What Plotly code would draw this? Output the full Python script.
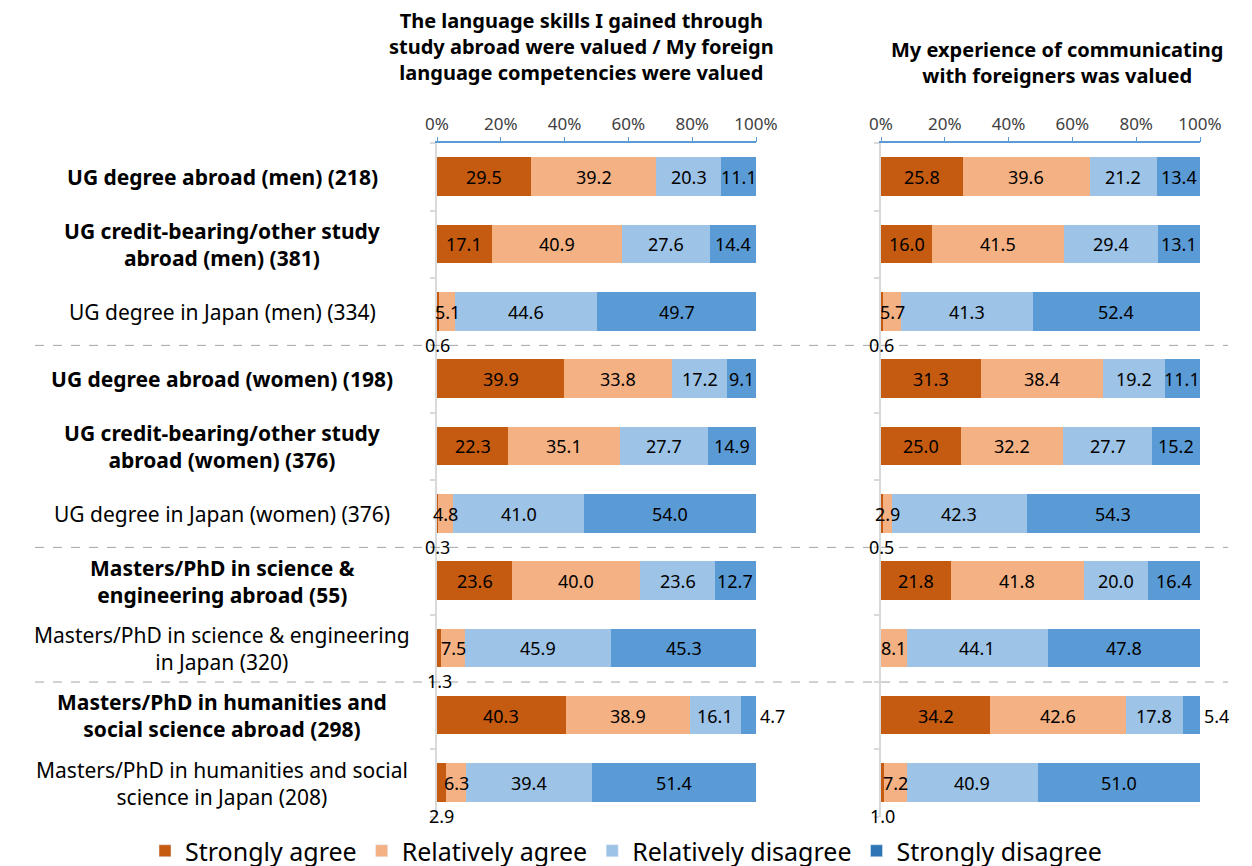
import plotly.graph_objects as go

# Row labels (top to bottom); bold rows are the "abroad" groups
groups = [
    "UG degree abroad (men) (218)",
    "UG credit-bearing/other study<br>abroad (men) (381)",
    "UG degree in Japan (men) (334)",
    "UG degree abroad (women) (198)",
    "UG credit-bearing/other study<br>abroad (women) (376)",
    "UG degree in Japan (women) (376)",
    "Masters/PhD in science &<br>engineering abroad (55)",
    "Masters/PhD in science & engineering<br>in Japan (320)",
    "Masters/PhD in humanities and<br>social science abroad (298)",
    "Masters/PhD in humanities and social<br>science in Japan (208)",
]
bold_rows = [True, True, False, True, True, False, True, False, True, False]

answers = ["Strongly agree", "Relatively agree", "Relatively disagree", "Strongly disagree"]
bar_colors = ["#C55A11", "#F4B183", "#9DC3E6", "#5B9BD5"]
legend_colors = ["#C55A11", "#F4B183", "#9DC3E6", "#2E75B6"]

# Left panel: language skills valued
lang_strong_agree = [29.5, 17.1, 0.6, 39.9, 22.3, 0.3, 23.6, 1.3, 40.3, 2.9]
lang_rel_agree = [39.2, 40.9, 5.1, 33.8, 35.1, 4.8, 40.0, 7.5, 38.9, 6.3]
lang_rel_disagree = [20.3, 27.6, 44.6, 17.2, 27.7, 41.0, 23.6, 45.9, 16.1, 39.4]
lang_strong_disagree = [11.1, 14.4, 49.7, 9.1, 14.9, 54.0, 12.7, 45.3, 4.7, 51.4]

# Right panel: communication with foreigners valued
comm_strong_agree = [25.8, 16.0, 0.6, 31.3, 25.0, 0.5, 21.8, 0.0, 34.2, 1.0]
comm_rel_agree = [39.6, 41.5, 5.7, 38.4, 32.2, 2.9, 41.8, 8.1, 42.6, 7.2]
comm_rel_disagree = [21.2, 29.4, 41.3, 19.2, 27.7, 42.3, 20.0, 44.1, 17.8, 40.9]
comm_strong_disagree = [13.4, 13.1, 52.4, 11.1, 15.2, 54.3, 16.4, 47.8, 5.4, 51.0]

title_left = "The language skills I gained through<br>study abroad were valued / My foreign<br>language competencies were valued"
title_right = "My experience of communicating<br>with foreigners was valued"

separators = [2.5, 5.5, 7.5]
tick_vals = [0, 20, 40, 60, 80, 100]
tick_text = [f"{v}%" for v in tick_vals]

FONT = "Noto Sans"
# the page body adds an 8px margin, so the figure is drawn 8px in from the corner
OFF = 8
W, H = 1252 - OFF, 866 - OFF


def fx(px):
    return (px - OFF) / W


def fy(px):
    return 1 - (px - OFF) / H


rows = list(range(len(groups)))
panels = [
    ("x", "y", [lang_strong_agree, lang_rel_agree, lang_rel_disagree, lang_strong_disagree]),
    ("x2", "y2", [comm_strong_agree, comm_rel_agree, comm_rel_disagree, comm_strong_disagree]),
]

fig = go.Figure()
annotations = []

for xa, ya, series in panels:
    for name, color, vals in zip(answers, bar_colors, series):
        fig.add_trace(go.Bar(
            x=vals, y=rows, orientation="h", name=name,
            marker=dict(color=color, line=dict(width=0)),
            width=0.57, xaxis=xa, yaxis=ya, showlegend=False,
            hoverinfo="x+name",
        ))
    # value labels
    for r in rows:
        left = 0.0
        for k, vals in enumerate(series):
            v = vals[r]
            centre = left + v / 2
            left += v
            if v <= 0:
                continue
            ann = dict(xref=xa, yref=ya, y=r, text=f"{v:.1f}", showarrow=False,
                       xanchor="center", font=dict(family=FONT, size=18, color="#000000"))
            if k == 0 and v < 3:
                # tiny slices get their label under the bar
                ann.update(x=centre, yshift=-33)
            elif k == 3 and v < 6:
                ann.update(x=100, xanchor="left", xshift=2)
            else:
                ann.update(x=centre)
            annotations.append(ann)

# legend entries (swatches use the darker blue like the original)
for name, color in zip(answers, legend_colors):
    fig.add_trace(go.Bar(x=[None], y=[None], orientation="h", name=name,
                         marker=dict(color=color), showlegend=True))

# row labels
for r, (label, bold) in enumerate(zip(groups, bold_rows)):
    txt = f"<b>{label.replace('<br>', '</b><br><b>')}</b>" if bold else label
    annotations.append(dict(xref="paper", yref="y", x=fx(222), y=r, text=txt,
                            showarrow=False, xanchor="center", yanchor="middle",
                            align="center",
                            font=dict(family=FONT, size=21, color="#000000")))

# panel titles
for title, xc, yc in [(title_left, 581, 47), (title_right, 1057, 63)]:
    txt = "<b>" + title.replace("<br>", "</b><br><b>") + "</b>"
    annotations.append(dict(xref="paper", yref="paper", x=fx(xc), y=fy(yc),
                            xanchor="center", yanchor="middle", text=txt,
                            showarrow=False, align="center",
                            font=dict(family=FONT, size=20, color="#000000")))

shapes = [dict(type="line", xref="paper", yref="y", x0=fx(35), x1=fx(1228), y0=s, y1=s,
               line=dict(color="#A6A6A6", width=1, dash="dash")) for s in separators]

y_top, y_bot = 143.4, 816.7
xaxis_common = dict(range=[0, 100], side="top", showline=True, linecolor="#5B9BD5",
                    linewidth=1.5, ticks="outside", tickcolor="#5B9BD5", ticklen=5,
                    tickvals=tick_vals, ticktext=tick_text, showgrid=False, zeroline=False,
                    tickfont=dict(family=FONT, size=17, color="#404040"), fixedrange=True,
                    automargin=False)
yaxis_common = dict(range=[len(groups) - 0.5, -0.5], domain=[fy(y_bot), fy(y_top)],
                    showline=True, linecolor="#D9D9D9", linewidth=2, ticks="outside",
                    tickcolor="#D9D9D9", ticklen=5, tickwidth=1.5,
                    tickvals=[r + 0.5 for r in range(-1, len(groups))],
                    showticklabels=False, showgrid=False, zeroline=False, fixedrange=True,
                    automargin=False)

fig.update_layout(
    width=W, height=H,
    margin=dict(l=0, r=0, t=0, b=0, autoexpand=False),
    paper_bgcolor="white", plot_bgcolor="white",
    barmode="stack", bargap=0,
    font=dict(family=FONT, color="#000000"),
    xaxis=dict(domain=[fx(437), fx(756)], anchor="y", **xaxis_common),
    xaxis2=dict(domain=[fx(881), fx(1200)], anchor="y2", **xaxis_common),
    yaxis=dict(anchor="x", **yaxis_common),
    yaxis2=dict(anchor="x2", **yaxis_common),
    legend=dict(orientation="h", x=fx(626), xanchor="center", y=fy(851), yanchor="middle",
                font=dict(family=FONT, size=25, color="#000000"), traceorder="normal",
                itemclick=False, itemwidth=30),
    annotations=annotations,
    shapes=shapes,
)

fig.write_html("out.html")
